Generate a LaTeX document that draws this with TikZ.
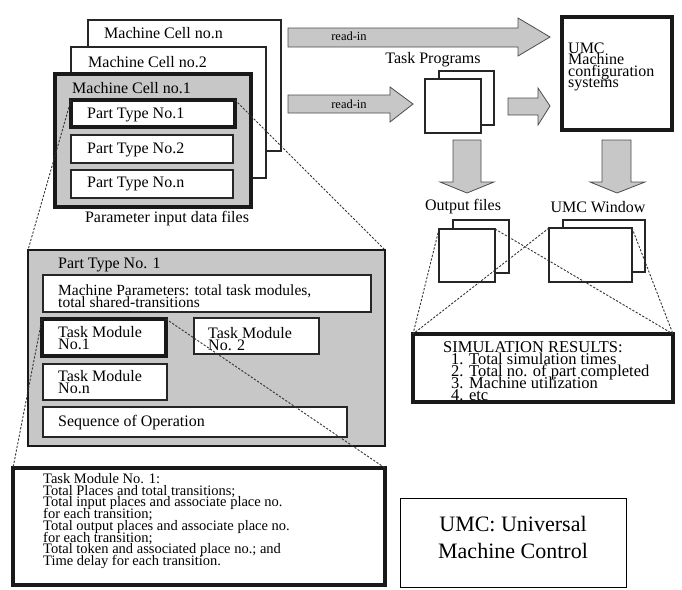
\documentclass[tikz,border=0pt]{standalone}
\usepackage{fontspec}
\setmainfont{Liberation Serif}
\def\mybox[#1](#2)#3#4#5#6{\node[#1, minimum width={#5-#3}, minimum height={#6-#4}] (#2) at (#3,#4) {};}
\begin{document}
\begin{tikzpicture}[x=1pt,y=-1pt,
  box/.style={draw=black!85, line width=1.3pt, fill=white, inner sep=0pt, outer sep=0pt, anchor=north west, rectangle},
  thickbox/.style={box, line width=3.4pt, draw=black!90},
  graybox/.style={fill=black!22},
  lbl/.style={font={\fontsize{16}{12.5}\selectfont\lineskiplimit=-30pt}, align=left, inner sep=0pt, anchor=west},
  clbl/.style={lbl, anchor=center},
  small/.style={clbl, font=\fontsize{12.5}{14}\selectfont},
  blockarrow/.style={draw=black!70, line width=0.8pt, fill=black!22, line join=miter},
  link/.style={dash pattern=on 2.2pt off 1.6pt, line width=0.9pt, draw=black!80}]
\useasboundingbox (0,0) rectangle (682,589);
% machine cells
\mybox[box](mcn){88}{20}{281}{151}
\mybox[box](mc2){71}{47}{266}{178}
\mybox[thickbox,graybox](mc1){55}{74}{251}{207}
\mybox[thickbox](pt1){71}{100}{235}{127}
\mybox[box](pt2){71}{135}{233}{163}
\mybox[box](ptn){71}{170}{233}{198}
\node[lbl] (tmcn) at (104,33) {Machine Cell no.n};
\node[lbl] (tmc2) at (88,62) {Machine Cell no.2};
\node[lbl] (tmc1) at (72,88) {Machine Cell no.1};
\node[lbl] (tpt1) at (87,115) {Part Type No.1};
\node[lbl] (tpt2) at (87,150) {Part Type No.2};
\node[lbl] (tptn) at (87,184) {Part Type No.n};
\node[clbl] (tpidf) at (167,219) {Parameter input data files};
% part type detail
\mybox[thickbox,graybox,line width=2.8pt](big){28}{250}{385}{446}
\mybox[box](mp){43}{275}{371}{312}
\mybox[thickbox](tm1){42}{319}{166}{356}
\mybox[box](tm2){194}{318}{319}{354}
\mybox[box](tmn){43}{364}{167}{400}
\mybox[box](seq){43}{407}{347}{437}
\node[lbl] (tbig) at (58,265) {Part Type No. 1};
\node[lbl, font={\fontsize{15.5}{12}\selectfont\lineskiplimit=-30pt}] (tmp) at (58,296) {Machine Parameters: total task modules,\\total shared-transitions};
\node[lbl, font={\fontsize{16}{11.5}\selectfont\lineskiplimit=-30pt}] (ttm1) at (58,338) {Task Module\\No.1};
\node[lbl, font={\fontsize{16}{11.5}\selectfont\lineskiplimit=-30pt}] (ttm2) at (208,339) {Task Module\\No. 2};
\node[lbl, font={\fontsize{16}{11.5}\selectfont\lineskiplimit=-30pt}] (ttmn) at (58,382) {Task Module\\No.n};
\node[lbl] (tseq) at (58,423) {Sequence of Operation};
% task module detail
\mybox[thickbox](det){13}{468}{385}{585}
\node[lbl, font={\fontsize{14.5}{11.7}\selectfont\lineskiplimit=-30pt}] (tdet) at (43,521) {Task Module No. 1:\\Total Places and total transitions;\\Total input places and associate place no.\\for each transition;\\Total output places and associate place no.\\for each transition;\\Total token and associated place no.; and\\Time delay for each transition.};
% legend
\mybox[box,draw=black,line width=1pt](leg){400}{498}{626}{587}
\node[clbl, align=center, font=\fontsize{22}{27}\selectfont] (tleg) at (513,537) {UMC: Universal\\Machine Control};
% task programs
\mybox[box](tpb){439}{71}{494}{125}
\mybox[box](tpf){425}{79}{481}{133}
\node[clbl] (ttp) at (433,60) {Task Programs};
% UMC
\mybox[thickbox](umc){562}{17}{672}{130}
\node[lbl, font={\fontsize{16}{11.5}\selectfont\lineskiplimit=-30pt}] (tumc) at (568,67) {UMC\\Machine\\configuration\\systems};
% outputs
\mybox[box](ofb){453}{220}{509}{273}
\mybox[box](off){439}{229}{495}{282}
\mybox[box](uwb){563}{220}{645}{272}
\mybox[box](uwf){549}{228}{632}{282}
\node[clbl] (tof) at (463,207) {Output files};
\node[clbl] (tuw) at (598,207) {UMC Window};
\mybox[thickbox](sim){413}{334}{673}{402}
\node[lbl, font={\fontsize{16.5}{12}\selectfont\lineskiplimit=-30pt}] (tsim) at (443,371) {SIMULATION RESULTS:\\\hspace*{8pt}1. Total simulation times\\\hspace*{8pt}2. Total no. of part completed\\\hspace*{8pt}3. Machine utilization\\\hspace*{8pt}4. etc};
% block arrows
\draw[blockarrow] (288,28) -- (518,28) -- (518,18) -- (550,37) -- (518,56) -- (518,47) -- (288,47) -- cycle;
\draw[blockarrow] (288,95) -- (390,95) -- (390,87) -- (413,104) -- (390,122) -- (390,113) -- (288,113) -- cycle;
\draw[blockarrow] (508,98) -- (538,98) -- (538,88) -- (550,106) -- (538,125) -- (538,115) -- (508,115) -- cycle;
\draw[blockarrow] (453,140) -- (481,140) -- (481,182) -- (494,182) -- (467,193) -- (440,182) -- (453,182) -- cycle;
\draw[blockarrow] (602,140) -- (631,140) -- (631,182) -- (645,182) -- (617,193) -- (590,182) -- (602,182) -- cycle;
\node[small] (tr1) at (349,36) {read-in};
\node[small] (tr2) at (349,104) {read-in};
% dashed zoom links
\draw[link] (pt1.north west) -- (big.north west);
\draw[link] (pt1.north east) -- (big.north east);
\draw[link] (tm1.north west) -- (det.north west);
\draw[link] (tm1.north east) -- (det.north east);
\draw[link] (off.north west) -- (sim.north west);
\draw[link] (off.north east) -- (sim.north east);
\draw[link] (uwf.north west) -- (sim.north west);
\draw[link] (uwf.north east) -- (sim.north east);
\end{tikzpicture}
\end{document}
